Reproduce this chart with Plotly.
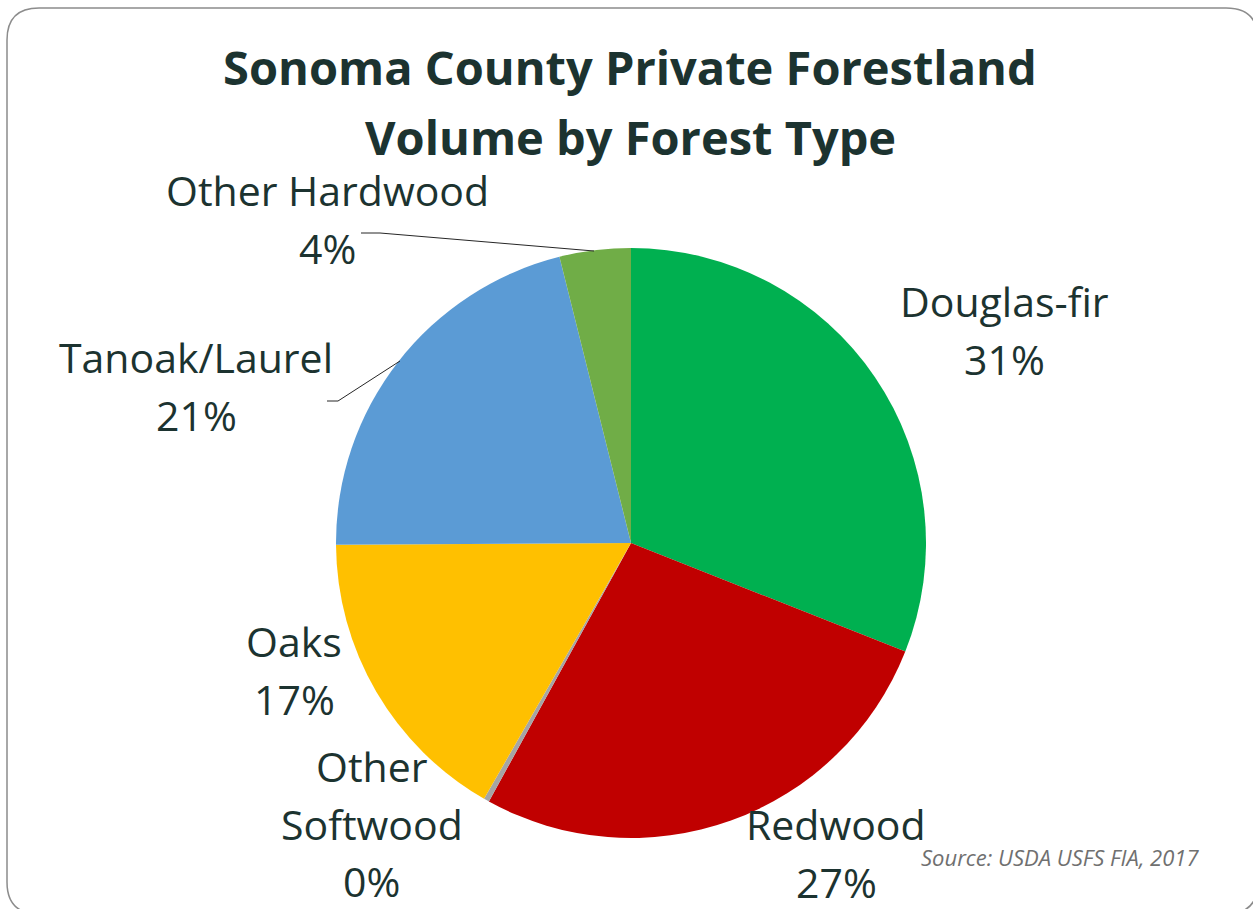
import plotly.graph_objects as go

# Share of private forestland volume by forest type (percent)
forest_types = ["Douglas-fir", "Redwood", "Other Softwood", "Oaks", "Tanoak/Laurel", "Other Hardwood"]
volume_pct = [31.0, 27.0, 0.3, 16.6, 21.2, 3.9]
slice_colors = ["#00B050", "#C00000", "#A5A5A5", "#FFC000", "#5B9BD5", "#70AD47"]

title_lines = ["Sonoma County Private Forestland", "Volume by Forest Type"]
source_note = "Source: USDA USFS FIA, 2017"

W, H = 1253, 909
TEXT = "#1C3330"
FONT = "'Open Sans', Lato, sans-serif"

def px(x):
    return x / W

def py(y):
    return 1 - y / H

# Pie placement (pixels): centre (631, 543), radius 295
cx, cy, r = 631, 543, 295

fig = go.Figure(
    go.Pie(
        labels=forest_types,
        values=volume_pct,
        sort=False,
        direction="clockwise",
        rotation=0,
        marker=dict(colors=slice_colors, line=dict(width=0)),
        textinfo="none",
        hoverinfo="label+percent",
        domain=dict(x=[px(cx - r), px(cx + r)], y=[py(cy + r), py(cy - r)]),
        showlegend=False,
    )
)

# Data label anchors: (x centre, y of first line) in pixels
label_pos = {
    "Douglas-fir": (1004, 301),
    "Redwood": (836, 824),
    "Other Softwood": (372, 766),
    "Oaks": (294, 641),
    "Tanoak/Laurel": (196, 357),
    "Other Hardwood": (327, 190),
}
LINE_GAP = 57.5

annotations = []
for name, val in zip(forest_types, volume_pct):
    x, y = label_pos[name]
    lines = name.split(" ") if name == "Other Softwood" else [name]
    lines = lines + [f"{val:.0f}%"]
    for i, line in enumerate(lines):
        annotations.append(dict(
            x=px(x), y=py(y + i * LINE_GAP), xref="paper", yref="paper",
            xanchor="center", yanchor="middle",
            text=line, showarrow=False,
            font=dict(family=FONT, size=41, color=TEXT),
        ))

for i, line in enumerate(title_lines):
    annotations.append(dict(
        x=px(630), y=py(67 + i * 70), xref="paper", yref="paper",
        xanchor="center", yanchor="middle",
        text=f"<b>{line}</b>", showarrow=False,
        font=dict(family=FONT, size=47, color=TEXT),
    ))

annotations.append(dict(
    x=px(1201), y=py(857), xref="paper", yref="paper",
    xanchor="right", yanchor="middle",
    text=f"<i>{source_note}</i>",
    showarrow=False,
    font=dict(family=FONT, size=22, color="#707070"),
))

def path_px(points):
    return "M " + " L ".join(f"{px(x)},{py(y)}" for x, y in points)

shapes = [
    # leader lines
    dict(type="path", xref="paper", yref="paper",
         path=path_px([(361, 233), (380, 233), (594, 251)]),
         line=dict(color="#262626", width=1)),
    dict(type="path", xref="paper", yref="paper",
         path=path_px([(327, 401), (338, 401), (400, 361)]),
         line=dict(color="#262626", width=1)),
]

# Rounded frame around the chart area
x0, y0, x1, y1, rr = 7, 8, 1258, 914, 32
frame = (
    f"M {px(x0)},{py(y0 + rr)} "
    f"Q {px(x0)},{py(y0)} {px(x0 + rr)},{py(y0)} "
    f"L {px(x1 - rr)},{py(y0)} "
    f"Q {px(x1)},{py(y0)} {px(x1)},{py(y0 + rr)} "
    f"L {px(x1)},{py(y1 - rr)} "
    f"Q {px(x1)},{py(y1)} {px(x1 - rr)},{py(y1)} "
    f"L {px(x0 + rr)},{py(y1)} "
    f"Q {px(x0)},{py(y1)} {px(x0)},{py(y1 - rr)} Z"
)
shapes.append(dict(type="path", xref="paper", yref="paper", path=frame,
                   line=dict(color="#8C8C8C", width=1.5), layer="below"))

fig.update_layout(
    width=W, height=H,
    margin=dict(l=0, r=0, t=0, b=0),
    paper_bgcolor="white",
    plot_bgcolor="white",
    annotations=annotations,
    shapes=shapes,
)

fig.write_html("out.html")
